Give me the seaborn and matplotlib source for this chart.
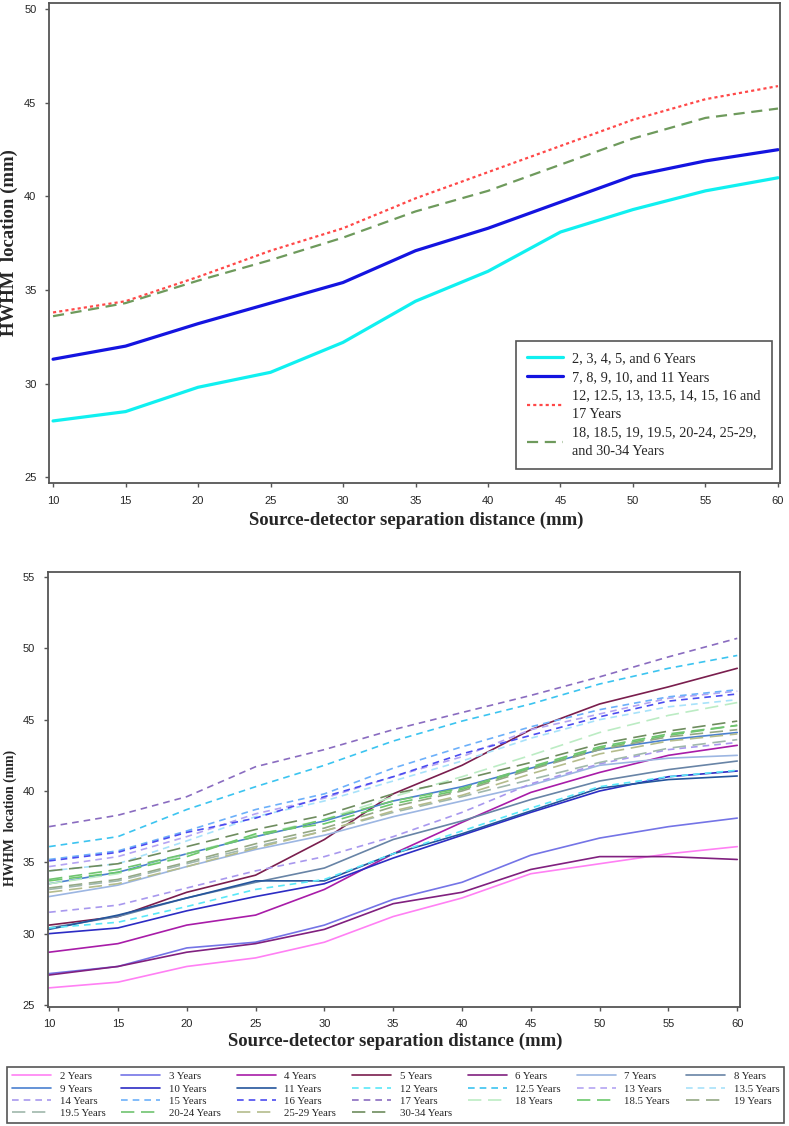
import numpy as np
import pandas as pd
import matplotlib
matplotlib.use('Agg')
import matplotlib.pyplot as plt
import seaborn as sns

# source-detector separation (mm)
dist = [10, 15, 20, 25, 30, 35, 40, 45, 50, 55, 60]

# top panel: grouped ages
grp_labels = ['2, 3, 4, 5, and 6 Years',
              '7, 8, 9, 10, and 11 Years',
              '12, 12.5, 13, 13.5, 14, 15, 16 and\n17 Years',
              '18, 18.5, 19, 19.5, 20-24, 25-29,\nand 30-34 Years']
grp_2_6 = [28.0, 28.5, 29.8, 30.6, 32.2, 34.4, 36.0, 38.1, 39.3, 40.3, 41.0]
grp_7_11 = [31.3, 32.0, 33.2, 34.3, 35.4, 37.1, 38.3, 39.7, 41.1, 41.9, 42.5]
grp_12_17 = [33.8, 34.4, 35.7, 37.1, 38.3, 39.9, 41.3, 42.7, 44.1, 45.2, 45.9]
grp_18_34 = [33.6, 34.3, 35.5, 36.6, 37.8, 39.2, 40.3, 41.7, 43.1, 44.2, 44.7]

# bottom panel: individual ages
age_labels = ['2 Years', '3 Years', '4 Years', '5 Years', '6 Years', '7 Years', '8 Years',
              '9 Years', '10 Years', '11 Years', '12 Years', '12.5 Years', '13 Years', '13.5 Years',
              '14 Years', '15 Years', '16 Years', '17 Years', '18 Years', '18.5 Years', '19 Years',
              '19.5 Years', '20-24 Years', '25-29 Years', '30-34 Years']
y2 = [26.2, 26.6, 27.7, 28.3, 29.4, 31.2, 32.5, 34.2, 34.9, 35.6, 36.1]
y3 = [27.2, 27.7, 29.0, 29.4, 30.6, 32.4, 33.6, 35.5, 36.7, 37.5, 38.1]
y4 = [28.7, 29.3, 30.6, 31.3, 33.1, 35.6, 37.8, 39.9, 41.3, 42.5, 43.2]
y5 = [30.6, 31.2, 32.9, 34.1, 36.6, 39.8, 41.8, 44.3, 46.1, 47.3, 48.6]
y6 = [27.1, 27.7, 28.7, 29.3, 30.3, 32.1, 32.9, 34.5, 35.4, 35.4, 35.2]
y7 = [32.6, 33.4, 34.7, 35.9, 36.9, 38.2, 39.3, 40.4, 41.8, 42.3, 42.5]
y8 = [30.4, 31.2, 32.5, 33.6, 34.6, 36.6, 37.9, 39.4, 40.7, 41.5, 42.1]
y9 = [33.5, 34.3, 35.6, 36.8, 37.9, 39.3, 40.3, 41.6, 42.9, 43.6, 44.1]
y10 = [30.0, 30.4, 31.6, 32.6, 33.5, 35.3, 36.9, 38.5, 40.0, 41.0, 41.4]
y11 = [30.3, 31.3, 32.5, 33.7, 33.7, 35.6, 37.0, 38.6, 40.2, 40.8, 41.05]
y12 = [30.4, 30.8, 31.9, 33.1, 33.8, 35.6, 37.2, 38.8, 40.3, 41.0, 41.45]
y12_5 = [36.1, 36.8, 38.7, 40.3, 41.8, 43.5, 44.9, 46.1, 47.5, 48.6, 49.5]
y13 = [34.7, 35.4, 36.8, 38.4, 39.5, 41.0, 42.4, 44.3, 45.4, 46.5, 47.0]
y13_5 = [34.4, 34.9, 36.5, 38.2, 39.3, 40.7, 42.1, 43.7, 45.0, 45.9, 46.4]
y14 = [31.5, 32.0, 33.2, 34.4, 35.4, 36.8, 38.5, 40.5, 41.9, 42.9, 43.4]
y15 = [35.2, 35.8, 37.2, 38.7, 39.8, 41.6, 43.1, 44.5, 45.7, 46.6, 47.1]
y16 = [35.1, 35.7, 37.1, 38.1, 39.6, 41.0, 42.6, 43.9, 45.2, 46.3, 46.8]
y17 = [37.5, 38.3, 39.6, 41.7, 42.9, 44.3, 45.5, 46.7, 48.0, 49.4, 50.7]
y18 = [33.5, 34.2, 35.6, 36.9, 38.0, 39.6, 41.0, 42.5, 44.1, 45.3, 46.2]
y18_5 = [33.7, 34.3, 35.4, 37.0, 37.7, 39.1, 40.1, 41.6, 43.0, 43.9, 44.6]
y19 = [33.2, 33.8, 35.0, 36.3, 37.4, 38.9, 40.0, 41.5, 42.9, 43.8, 44.3]
y19_5 = [33.1, 33.7, 34.9, 36.1, 37.2, 38.5, 39.6, 40.8, 42.0, 43.0, 43.6]
y20_24 = [33.8, 34.5, 35.6, 36.8, 38.0, 39.3, 40.2, 41.7, 43.1, 44.0, 44.6]
y25_29 = [32.9, 33.5, 34.7, 36.0, 37.2, 38.6, 39.7, 41.2, 42.6, 43.5, 44.0]
y30_34 = [34.4, 34.9, 36.1, 37.3, 38.3, 39.8, 40.8, 42.0, 43.3, 44.2, 44.9]
age_values = [y2, y3, y4, y5, y6, y7, y8, y9, y10, y11, y12, y12_5, y13, y13_5,
              y14, y15, y16, y17, y18, y18_5, y19, y19_5, y20_24, y25_29, y30_34]

age_colors = ['#ff80f4', '#7474e6', '#a81ca8', '#7a1e4e', '#80207f', '#9cb6e2', '#6884a6',
              '#4a80d0', '#2c2cc4', '#24559c', '#5ae8f8', '#3cc4f0', '#b4a4f2', '#a8e2fa',
              '#a898ee', '#6cb0fa', '#4c4cf0', '#8a6cc0', '#bcecc4', '#6cc86c', '#94a884',
              '#a0b8ac', '#70c470', '#b4bc8c', '#6e8c5e']
short_dash = (0, (4, 3))
long_dash = (0, (8, 4))
age_styles = ['-'] * 10 + [short_dash] * 8 + [long_dash] * 7

sns.set_style('ticks')
serif = ['Liberation Serif', 'DejaVu Serif']
plt.rcParams['font.family'] = ['Liberation Sans Narrow', 'Liberation Sans', 'DejaVu Sans']
plt.rcParams['xtick.labelsize'] = 8
plt.rcParams['ytick.labelsize'] = 8

fig = plt.figure(figsize=(7.89, 11.26), dpi=100)
ax1 = fig.add_axes([0.0621, 0.571, 0.9265, 0.4263])
ax2 = fig.add_axes([0.0605, 0.1057, 0.8774, 0.3863])

# ---- top panel
top_series = [grp_2_6, grp_7_11, grp_12_17, grp_18_34]
top_colors = ['#10f0f0', '#1414e0', '#ff4848', '#6e9a5c']
top_styles = ['-', '-', (0, (1.4, 1.4)), (0, (5, 3))]
top_lw = [2.3, 2.3, 1.6, 1.6]
for vals, lab, c, ls, lw in zip(top_series, grp_labels, top_colors, top_styles, top_lw):
    sns.lineplot(x=dist, y=vals, ax=ax1, color=c, linestyle=ls, linewidth=lw, label=lab)

ax1.set_xlim(9.72, 60.14)
ax1.set_ylim(24.68, 50.34)
ax1.set_xticks(range(10, 61, 5))
ax1.set_yticks(range(25, 51, 5))
ax1.set_xlabel('Source-detector separation distance (mm)', family=serif, fontweight='bold', fontsize=13.5)
ax1.set_ylabel('HWHM  location (mm)', family=serif, fontweight='bold', fontsize=13.5)
ax1.xaxis.set_label_coords(0.503, -0.06)
ax1.yaxis.set_label_coords(-0.0424, 0.5)
leg1 = ax1.legend(loc='lower right', bbox_to_anchor=(0.989, 0.029), prop={'family': serif, 'size': 10.3},
                  frameon=True, fancybox=False, edgecolor='#555555', framealpha=1,
                  handlelength=2.5, handletextpad=0.65, labelspacing=0.38, borderpad=0.8,
                  borderaxespad=0)
leg1.get_frame().set_linewidth(1.2)
for t in leg1.get_texts():
    t.set_linespacing(1.55)

# ---- bottom panel
for vals, lab, c, ls in zip(age_values, age_labels, age_colors, age_styles):
    sns.lineplot(x=dist, y=vals, ax=ax2, color=c, linestyle=ls, linewidth=1.2, label=lab)

ax2.set_xlim(9.9, 60.2)
ax2.set_ylim(24.86, 55.35)
ax2.set_xticks(range(10, 61, 5))
ax2.set_yticks(range(25, 56, 5))
ax2.set_xlabel('Source-detector separation distance (mm)', family=serif, fontweight='bold', fontsize=13.5)
ax2.set_ylabel('HWHM  location (mm)', family=serif, fontweight='bold', fontsize=9.8)
ax2.xaxis.set_label_coords(0.502, -0.06)
ax2.yaxis.set_label_coords(-0.0444, 0.434)

handles, labels = ax2.get_legend_handles_labels()
ax2.get_legend().remove()
ncol = 7
order = [i * ncol + j for j in range(ncol) for i in range(4 if j < 4 else 3)]
leg = fig.legend([handles[k] for k in order], [labels[k] for k in order], ncol=ncol,
                 loc='lower left', bbox_to_anchor=(0.0089, 0.0027, 0.985, 0.05), mode='expand',
                 prop={'family': serif, 'size': 7.8}, frameon=True, fancybox=False,
                 edgecolor='#555555', framealpha=1, handlelength=3.6, handletextpad=0.8,
                 labelspacing=0.25, borderpad=0.45, borderaxespad=0)
leg.get_frame().set_linewidth(1.2)

for ax in (ax1, ax2):
    for s in ax.spines.values():
        s.set_color('#555555')
        s.set_linewidth(1.3)
    ax.tick_params(axis='both', direction='out', length=3, width=1, color='#555555', pad=6)

fig.savefig('out.png', dpi=100)
